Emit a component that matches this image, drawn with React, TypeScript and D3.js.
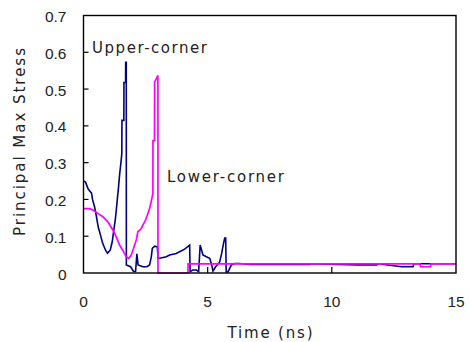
import React from "react";
import * as d3 from "d3";

const upperT = [0, 0.081, 0.19, 0.323, 0.363, 0.444, 0.512, 0.593, 0.685, 0.766, 0.887, 0.968, 1.077, 1.157, 1.21, 1.278, 1.319, 1.359, 1.411, 1.452, 1.504, 1.544, 1.548, 1.625, 1.629, 1.694, 1.698, 1.722, 1.726, 1.895, 2.016, 2.097, 2.149, 2.198, 2.391, 2.552, 2.661, 2.73, 2.77, 2.863, 2.972, 3.004, 3.065, 3.335, 3.468, 3.738, 3.871, 4.073, 4.274, 4.294, 4.395, 4.544, 4.637, 4.698, 4.81, 4.948, 5.081, 5.149, 5.214, 5.32, 5.484, 5.565, 5.625, 5.686, 5.726, 5.746, 5.819, 5.956, 6.089, 6.29, 6.694, 9.113, 9.15, 11.05, 11.81, 11.85, 12.82, 13.27, 13.3, 15];
const upperV = [0.25, 0.247, 0.228, 0.217, 0.2, 0.18, 0.157, 0.125, 0.103, 0.082, 0.062, 0.054, 0.062, 0.085, 0.112, 0.144, 0.17, 0.198, 0.234, 0.266, 0.298, 0.325, 0.415, 0.415, 0.518, 0.518, 0.573, 0.573, 0.022, 0.017, 0.004, 0.004, 0.052, 0.022, 0.017, 0.017, 0.022, 0.044, 0.067, 0.073, 0.071, 0.04, 0.04, 0.044, 0.049, 0.053, 0.058, 0.065, 0.076, 0.004, 0.008, 0.008, 0.004, 0.076, 0.049, 0.044, 0.04, 0.026, 0.005, 0.017, 0.03, 0.054, 0.076, 0.095, 0.095, 0.003, 0.003, 0.022, 0.026, 0.026, 0.023, 0.023, 0.025, 0.022, 0.022, 0.025, 0.017, 0.017, 0.025, 0.025];

const lowerT = [0, 0.242, 0.375, 0.577, 0.778, 0.98, 1.181, 1.319, 1.452, 1.613, 1.722, 1.827, 1.923, 2.016, 2.125, 2.19, 2.327, 2.391, 2.5, 2.593, 2.661, 2.73, 2.794, 2.798, 2.859, 2.863, 2.931, 2.996, 3.0, 4.206, 4.21, 13.55, 13.57, 13.97, 13.99, 15];
const lowerV = [0.175, 0.175, 0.171, 0.162, 0.153, 0.139, 0.117, 0.098, 0.076, 0.058, 0.044, 0.04, 0.049, 0.067, 0.09, 0.112, 0.121, 0.13, 0.144, 0.162, 0.175, 0.195, 0.216, 0.36, 0.36, 0.519, 0.528, 0.537, 0, 0, 0.025, 0.025, 0.017, 0.017, 0.025, 0.025];

const xTicks = [0, 5, 10, 15];
const yTicks = [0, 0.1, 0.2, 0.3, 0.4, 0.5, 0.6, 0.7];

export default function App() {
  const W = 470, H = 342;
  const L = 83.5, R = 456, T = 15.5, B = 273;
  const x = d3.scaleLinear().domain([0, 15]).range([L, R]);
  const y = d3.scaleLinear().domain([0, 0.7]).range([B, T]);
  const line = d3.line<[number, number]>().x(d => x(d[0])).y(d => y(d[1]));
  const up = upperT.map((t, i) => [t, upperV[i]] as [number, number]);
  const lo = lowerT.map((t, i) => [t, lowerV[i]] as [number, number]);
  const font = "'Liberation Sans', Arial, sans-serif";
  const font2 = "'DejaVu Sans', Verdana, sans-serif";
  return (
    <svg width={W} height={H} style={{ position: "absolute", left: 0, top: 0, background: "#fff" }} fontFamily={font}>
      <rect x={0} y={0} width={W} height={H} fill="#fff" />
      <path d={line(up) || ""} fill="none" stroke="#000080" strokeWidth={1.6} strokeLinejoin="miter" />
      <path d={line(lo) || ""} fill="none" stroke="#ff00ff" strokeWidth={1.7} strokeLinejoin="miter" />
      <rect x={L} y={T} width={R - L} height={B - T} fill="none" stroke="#000" strokeWidth={1.4} />
      {yTicks.map(v => (
        <g key={"y" + v}>
          {v > 0 && v < 0.7 && <line x1={L} x2={L + 5} y1={y(v)} y2={y(v)} stroke="#000" strokeWidth={1.2} />}
          <text x={66.5} y={y(v) + 1} textAnchor="end" dominantBaseline="central" fontSize={15.5} fill="#222">
            {v === 0 ? "0" : v.toFixed(1)}
          </text>
        </g>
      ))}
      {xTicks.map(v => (
        <g key={"x" + v}>
          {v > 0 && v < 15 && <line x1={x(v)} x2={x(v)} y1={B} y2={B - 6} stroke="#000" strokeWidth={1.2} />}
          <text x={x(v)} y={307} textAnchor="middle" fontSize={15.5} fill="#222">{v}</text>
        </g>
      ))}
      <text x={270} y={338} textAnchor="middle" fontSize={15} fill="#222" fontFamily={font2} textLength={85} lengthAdjust="spacing">Time (ns)</text>
      <text transform="translate(25,142) rotate(-90)" textAnchor="middle" fontSize={15} fill="#222" fontFamily={font2} textLength={188} lengthAdjust="spacing">Principal Max Stress</text>
      <text x={92} y={53} fontSize={15} fill="#222" fontFamily={font2} textLength={115} lengthAdjust="spacing">Upper-corner</text>
      <text x={167} y={182} fontSize={15} fill="#222" fontFamily={font2} textLength={117} lengthAdjust="spacing">Lower-corner</text>
    </svg>
  );
}
